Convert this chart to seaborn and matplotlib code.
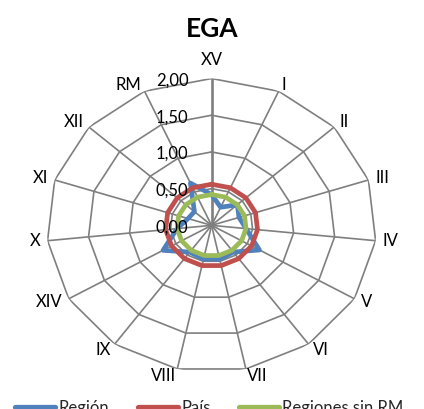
import numpy as np
import pandas as pd
import matplotlib
matplotlib.use("Agg")
import matplotlib.pyplot as plt
from matplotlib.lines import Line2D
import seaborn as sns

regiones = ["XV", "I", "II", "III", "IV", "V", "VI", "VII", "VIII",
            "IX", "XIV", "X", "XI", "XII", "RM"]
region = [0.42, 0.27, 0.42, 0.35, 0.42, 0.67, 0.45, 0.47, 0.47,
          0.45, 0.68, 0.42, 0.30, 0.28, 0.63]
pais = [0.56] * 15
sin_rm = [0.42] * 15
series = ["Región", "País", "Regiones sin RM"]
colores = ["#4F81BD", "#C0504D", "#9BBB59"]
anillos = [0.5, 1.0, 1.5, 2.0]
etiquetas_r = ["0,00", "0,50", "1,00", "1,50", "2,00"]

sns.set_theme(style="white")
plt.rcParams["font.family"] = ["Lato", "DejaVu Sans"]

n = len(regiones)
ang = np.linspace(0, 2 * np.pi, n, endpoint=False)
ang_c = np.append(ang, 2 * np.pi)

filas = []
for nombre, vals in zip(series, [region, pais, sin_rm]):
    for t, v in zip(ang_c, vals + vals[:1]):
        filas.append({"theta": t, "valor": v, "serie": nombre})
df = pd.DataFrame(filas)

fig = plt.figure(figsize=(4.24, 4.09), dpi=100)
ax = fig.add_axes([0.110, 0.090, 0.778, 0.718], projection="polar")
ax.set_aspect("auto")
ax.set_theta_zero_location("N")
ax.set_theta_direction(-1)
ax.set_ylim(0, 2)
ax.grid(False)
ax.set_xticks([])
ax.set_yticks([])
ax.spines["polar"].set_visible(False)

gris = "#7f7f7f"
# anillos poligonales
for r in anillos:
    ax.plot(ang_c, [r] * (n + 1), color=gris, lw=1.2, zorder=1)
# radios
for i, t in enumerate(ang):
    ax.plot([t, t], [0, 2], color=gris, lw=1.9 if i == 0 else 1.2, zorder=1)

sns.lineplot(data=df, x="theta", y="valor", hue="serie", hue_order=series,
             palette=colores, sort=False, estimator=None, lw=3.4,
             legend=False, ax=ax, zorder=3)
ax.set_xlabel("")
ax.set_ylabel("")

# etiquetas de categoría
for t, lab in zip(ang, regiones):
    s, c = np.sin(t), np.cos(t)
    if abs(s) < 0.1:
        ha, va, dx, dy = "center", "bottom", 0, 11
    else:
        ha = "left" if s > 0 else "right"
        va = "center"
        dx, dy = 7 * s, 7 * c
    ax.annotate(lab, xy=(t, 2.0), xytext=(dx, dy), textcoords="offset pixels",
                ha=ha, va=va, fontsize=12, color="black", annotation_clip=False)

# etiquetas del eje de valores
for r, lab in zip([0.0] + anillos, etiquetas_r):
    ax.annotate(lab, xy=(0, r), xytext=(-23, -2), textcoords="offset pixels",
                ha="right", va="center", fontsize=12, color="black",
                annotation_clip=False, zorder=4)

fig.text(0.5, 0.928, "EGA", ha="center", va="center", fontsize=19,
         fontweight="bold", color="black")

handles = [Line2D([0], [0], color=c, lw=3.8) for c in colores]
fig.legend(handles, series, loc="center", bbox_to_anchor=(0.494, 0.002),
           ncol=3, frameon=False, fontsize=12, handlelength=2.4,
           handletextpad=0.2, columnspacing=1.7)

fig.savefig("out.png", dpi=100)
